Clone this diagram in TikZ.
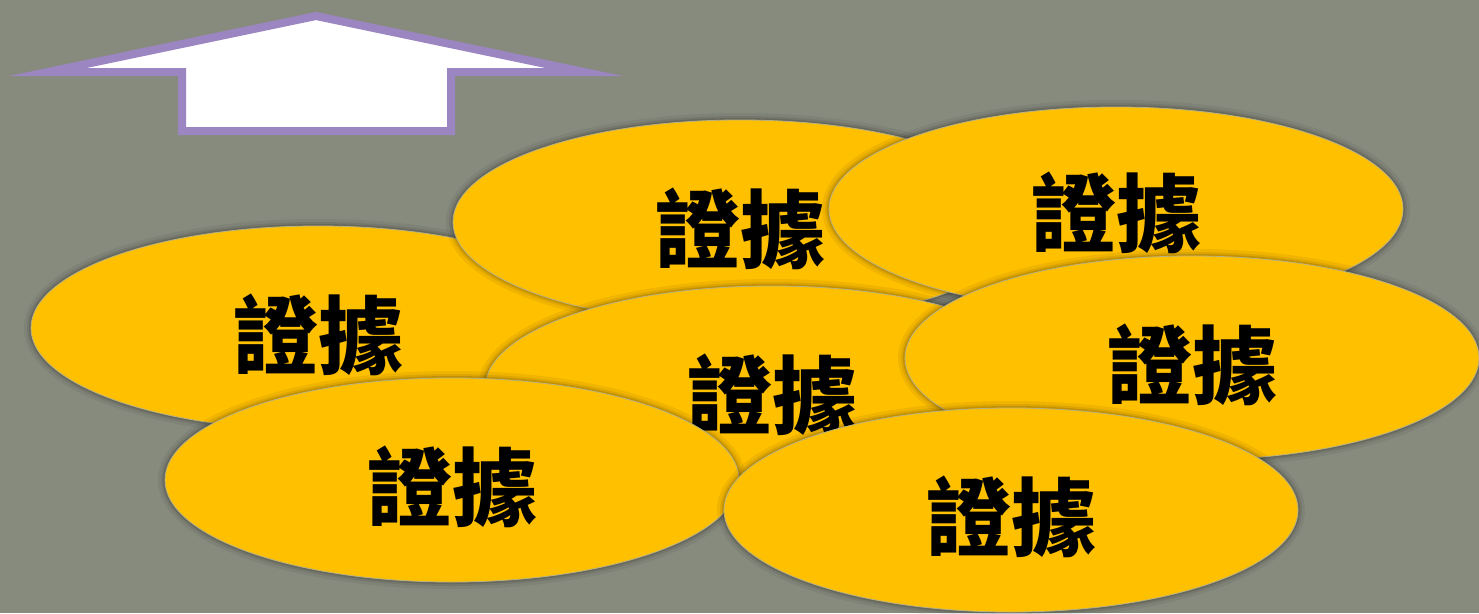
\documentclass[tikz,border=0pt]{standalone}
\usepackage{fontspec}
\newfontfamily\cjk{Noto Sans CJK TC}
\usetikzlibrary{shapes.geometric}
\definecolor{bgc}{RGB}{135,139,126}
\definecolor{gold}{RGB}{255,192,0}
\definecolor{edgec}{RGB}{185,178,130}
\definecolor{purp}{RGB}{155,134,193}
\tikzset{
  evid/.style={ellipse, minimum width=574pt, minimum height=204pt, inner sep=0pt,
    preaction={draw=black, draw opacity=0.06, line width=14pt},
    preaction={draw=black, draw opacity=0.08, line width=8pt},
    preaction={draw=black, draw opacity=0.12, line width=4pt},
    fill=gold, draw=edgec, line width=0.8pt},
  evtext/.style={inner sep=0pt, font=\cjk\bfseries\fontsize{85}{85}\selectfont, text=black},
  upbox/.style={draw=purp, fill=white, line width=8pt, miter limit=20, line join=miter}
}
\begin{document}
\begin{tikzpicture}[x=1pt, y=-1pt]
\useasboundingbox (0,0) rectangle (1479,613);
\fill[bgc] (0,0) rectangle (1479,613);
% up arrow
\draw[upbox] (48,72) -- (316,16) -- (584,72) -- (451,72) -- (451,131) -- (182,131) -- (182,72) -- cycle;
% ellipses in stacking order
\node[evid] (e1) at (318,328) {};
\node[evtext] (t1) at ([yshift=-7pt]e1.center) {證據};
\node[evid] (e2) at (740,222) {};
\node[evtext] (t2) at ([yshift=-7pt]e2.center) {證據};
\node[evid] (e3) at (1116,209) {};
\node[evtext] (t3) at ([yshift=-4pt]e3.center) {證據};
\node[evid] (e4) at (772,388) {};
\node[evtext] (t4) at ([yshift=-7pt]e4.center) {證據};
\node[evid] (e5) at (1192,358) {};
\node[evtext] (t5) at ([yshift=-7pt]e5.center) {證據};
\node[evid] (e6) at (452,480) {};
\node[evtext] (t6) at ([yshift=-7pt]e6.center) {證據};
\node[evid] (e7) at (1011,510) {};
\node[evtext] (t7) at ([yshift=-7pt]e7.center) {證據};
\end{tikzpicture}
\end{document}
